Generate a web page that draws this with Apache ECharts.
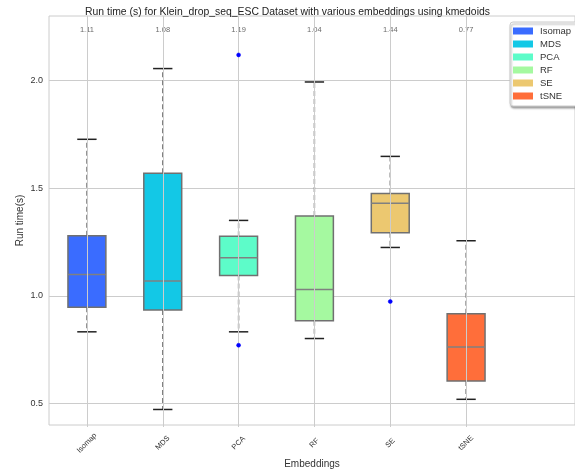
<!DOCTYPE html>
<html>
<head>
<meta charset="utf-8">
<script src="https://cdn.jsdelivr.net/npm/echarts@6/dist/echarts.min.js"></script>
<style>html,body{margin:0;padding:0;background:#fff;}#c{width:575px;height:474px;}</style>
</head>
<body>
<div id="c"></div>
<script>
const categories = ['Isomap', 'MDS', 'PCA', 'RF', 'SE', 'tSNE'];
const colors = ['#3a6cff', '#13c8e6', '#5dfcc9', '#a5f9a0', '#ecc870', '#ff6e3a'];
const lowerWhisker = [0.840, 0.481, 0.840, 0.809, 1.230, 0.528];
const q1 = [0.954, 0.941, 1.100, 0.891, 1.298, 0.613];
const median = [1.105, 1.075, 1.182, 1.036, 1.434, 0.770];
const q3 = [1.284, 1.573, 1.282, 1.375, 1.480, 0.923];
const upperWhisker = [1.730, 2.057, 1.355, 1.995, 1.651, 1.261];
const medianLabels = ['1.11', '1.08', '1.19', '1.04', '1.44', '0.77'];
const outliers = [['PCA', 2.120], ['PCA', 0.778], ['SE', 0.980]];
const yTicks = [0.5, 1.0, 1.5, 2.0];

const Y_MIN = 0.4, Y_MAX = 2.3, LABEL_Y = 2.236;
const FONT = '"Liberation Sans", Arial, sans-serif';

function renderBox(params, api) {
  const i = api.value(0);
  const band = api.size([1, 0])[0];
  const bw = band * 0.5, cw = band * 0.255;
  const lo = api.coord([i, api.value(1)]);
  const b1 = api.coord([i, api.value(2)]);
  const md = api.coord([i, api.value(3)]);
  const b3 = api.coord([i, api.value(4)]);
  const hi = api.coord([i, api.value(5)]);
  const lp = api.coord([i, LABEL_Y]);
  const x = md[0];
  const whisk = {stroke: '#808080', lineWidth: 1.5, lineDash: [5, 3]};
  const cap = {stroke: '#222222', lineWidth: 1.5};
  return {
    type: 'group',
    children: [
      {type: 'line', shape: {x1: x, y1: b3[1], x2: x, y2: hi[1]}, style: whisk},
      {type: 'line', shape: {x1: x, y1: b1[1], x2: x, y2: lo[1]}, style: whisk},
      {type: 'line', shape: {x1: x - cw / 2, y1: hi[1], x2: x + cw / 2, y2: hi[1]}, style: cap},
      {type: 'line', shape: {x1: x - cw / 2, y1: lo[1], x2: x + cw / 2, y2: lo[1]}, style: cap},
      {type: 'rect', shape: {x: x - bw / 2, y: b3[1], width: bw, height: b1[1] - b3[1]},
        style: {fill: api.visual('color'), stroke: '#707070', lineWidth: 1.5}},
      {type: 'line', shape: {x1: x - bw / 2, y1: md[1], x2: x + bw / 2, y2: md[1]},
        style: {stroke: '#808080', lineWidth: 1.5}},
      {type: 'text', x: x, y: lp[1],
        style: {text: medianLabels[i], fill: '#6a6a6a', fontSize: 7.5, fontFamily: FONT,
          align: 'center', verticalAlign: 'middle'}}
    ]
  };
}

const boxSeries = categories.map((name, k) => ({
  name: name,
  type: 'custom',
  xAxisIndex: 1,
  yAxisIndex: 1,
  z: 3,
  itemStyle: {color: colors[k]},
  renderItem: renderBox,
  encode: {x: 0, y: [1, 2, 3, 4, 5]},
  data: [[k, lowerWhisker[k], q1[k], median[k], q3[k], upperWhisker[k]]]
}));

const option = {
  animation: false,
  textStyle: {fontFamily: FONT},
  title: {
    text: 'Run time (s) for Klein_drop_seq_ESC Dataset with various embeddings using kmedoids',
    left: 'center', top: 2,
    textStyle: {fontSize: 10.4, fontWeight: 'normal', color: '#222', fontFamily: FONT}
  },
  legend: {
    data: categories,
    orient: 'vertical',
    left: 510, top: 22,
    icon: 'rect',
    itemWidth: 20, itemHeight: 7, itemGap: 3,
    padding: [4, 20, 5, 3],
    backgroundColor: '#fff',
    borderColor: '#cccccc', borderWidth: 1, borderRadius: 3,
    shadowColor: 'rgba(0,0,0,0.35)', shadowBlur: 2, shadowOffsetX: 1, shadowOffsetY: 2,
    textStyle: {fontSize: 9.5, color: '#333', fontFamily: FONT, padding: [0, 0, 0, 2]}
  },
  grid: [
    {left: 49, right: 0, top: 16, bottom: 47, show: true, borderColor: '#cccccc', borderWidth: 1, backgroundColor: '#fff'},
    {left: 49, right: 71, top: 16, bottom: 47}
  ],
  xAxis: [
    {gridIndex: 0, type: 'value', min: 0, max: 1,
      axisLine: {show: false}, axisTick: {show: false}, axisLabel: {show: false}, splitLine: {show: false},
      name: 'Embeddings', nameLocation: 'middle', nameGap: 34,
      nameTextStyle: {fontSize: 10, color: '#333', fontFamily: FONT}},
    {gridIndex: 1, type: 'category', data: categories, boundaryGap: true,
      axisLine: {show: false}, axisTick: {show: false}, splitLine: {show: false},
      axisLabel: {fontSize: 7.5, color: '#333', rotate: 45, align: 'center', verticalAlign: 'middle', margin: 16, fontFamily: FONT}}
  ],
  yAxis: [
    {gridIndex: 0, type: 'value', min: Y_MIN, max: Y_MAX,
      axisLine: {show: false},
      axisTick: {show: false, customValues: yTicks},
      axisLabel: {customValues: yTicks, fontSize: 9, color: '#333', margin: 6, fontFamily: FONT,
        formatter: v => v.toFixed(1)},
      splitLine: {show: true, lineStyle: {color: '#cccccc', width: 1}},
      name: 'Run time(s)', nameLocation: 'middle', nameGap: 24, nameMoveOverlap: false,
      nameTextStyle: {fontSize: 10, color: '#333', fontFamily: FONT}},
    {gridIndex: 1, type: 'value', min: Y_MIN, max: Y_MAX, show: false}
  ],
  series: [
    {
      type: 'scatter', xAxisIndex: 1, yAxisIndex: 1, z: 1,
      silent: true,
      markLine: {
        silent: true, symbol: ['none', 'none'], label: {show: false},
        lineStyle: {color: '#cccccc', width: 1, type: 'solid'},
        data: categories.map(c => ({xAxis: c}))
      },
      data: []
    },
    {
      type: 'scatter', xAxisIndex: 1, yAxisIndex: 1, z: 5,
      symbol: 'circle', symbolSize: 4,
      itemStyle: {color: '#0000ff', borderColor: '#0000ff', borderWidth: 0.5, opacity: 1},
      data: outliers
    }
  ].concat(boxSeries)
};

const chart = echarts.init(document.getElementById('c'));
chart.setOption(option);
</script>
</body>
</html>
